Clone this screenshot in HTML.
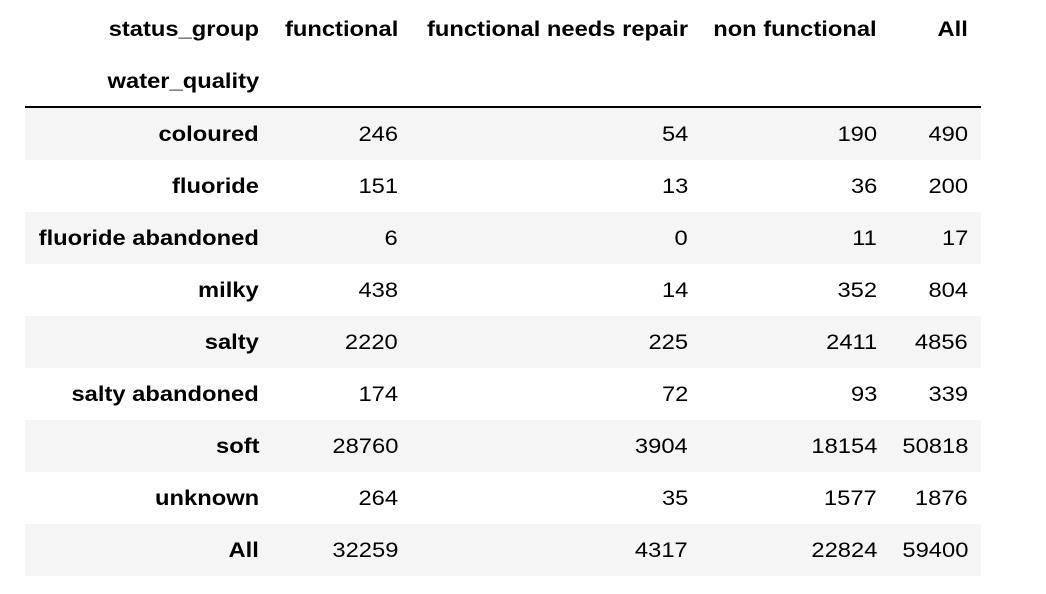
<!DOCTYPE html>
<html><head><meta charset="utf-8"><style>
body{margin:0;width:1046px;height:594px;background:#fff;font-family:"Liberation Sans",Arial,sans-serif;font-size:21px;color:#000;position:relative;overflow:hidden}
.t{position:absolute;white-space:nowrap;line-height:24px;text-align:right;transform:scaleX(1.13);transform-origin:right center}
.b{font-weight:bold}
.row{position:absolute;left:25px;width:956px;height:52px}
.sh{background:#f5f5f5}
</style></head><body>
<div id="tbl"></div>
<script>
const rowLabels=["coloured","fluoride","fluoride abandoned","milky","salty","salty abandoned","soft","unknown","All"];
const functional=[246,151,6,438,2220,174,28760,264,32259];
const needsRepair=[54,13,0,14,225,72,3904,35,4317];
const nonFunctional=[190,36,11,352,2411,93,18154,1577,22824];
const allTotals=[490,200,17,804,4856,339,50818,1876,59400];
const headers=["status_group","functional","functional needs repair","non functional","All"];
const rights=[259,398,688,877,968];
const tbl=document.getElementById('tbl');
function txt(s,right,cy,bold,name){
  const d=document.createElement('div');
  d.className='t'+(bold?' b':'');
  d.textContent=s;
  d.style.right=(1046-right)+'px';
  d.style.top=(cy-11)+'px';
  
  
  tbl.appendChild(d);
}
headers.forEach((h,i)=>txt(h,rights[i],29,true,'header-'+h.replace(/[ _]/g,'-').toLowerCase()));
txt('water_quality',259,81,true,'index-name');
const line=document.createElement('div');
line.style.cssText='position:absolute;left:25px;width:956px;top:106px;height:2px;background:#000';


tbl.appendChild(line);
rowLabels.forEach((r,i)=>{
  const top=108+i*52;
  const row=document.createElement('div');
  row.className='row'+(i%2===0?' sh':'');
  row.style.top=top+'px';
  
  
  tbl.appendChild(row);
  const cy=top+26;
  const slug=r.replace(/ /g,'-').toLowerCase();
  txt(r,rights[0],cy,true,'row-label-'+slug);
  txt(String(functional[i]),rights[1],cy,false,'functional-'+slug);
  txt(String(needsRepair[i]),rights[2],cy,false,'needs-repair-'+slug);
  txt(String(nonFunctional[i]),rights[3],cy,false,'non-functional-'+slug);
  txt(String(allTotals[i]),rights[4],cy,false,'all-'+slug);
});
</script>
</body></html>
